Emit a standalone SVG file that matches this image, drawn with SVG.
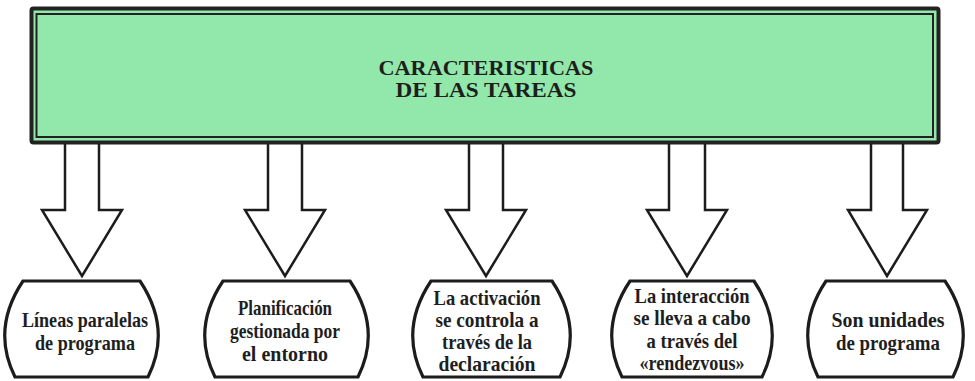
<svg xmlns="http://www.w3.org/2000/svg" width="975" height="381" viewBox="0 0 975 381">
<style>
.arrow{fill:#fff;stroke:#1c1c1c;stroke-width:2.5;stroke-linejoin:miter}
.node{fill:#fff;stroke:#1c1c1c;stroke-width:3.2}
.t{font-family:"Liberation Serif","DejaVu Serif",serif;font-weight:bold;font-size:21.5px;fill:#1e1e1e;text-anchor:middle}
.h{font-size:21px}
</style>
<rect width="975" height="381" fill="#fff"/>
<g id="connectors">
<path class="arrow" d="M65,142 V210 H42 L82,276 L122,210 H99 V142"/>
<path class="arrow" d="M268,142 V210 H245 L285,276 L325,210 H302 V142"/>
<path class="arrow" d="M469,142 V210 H446 L486,276 L526,210 H503 V142"/>
<path class="arrow" d="M669,142 V210 H647 L687,276 L727,210 H705 V142"/>
<path class="arrow" d="M871,142 V210 H848 L887,276 L927,210 H903 V142"/>
</g>
<g id="title">
<rect x="31.5" y="8.5" width="907" height="134" rx="2" fill="#92e8aa" stroke="#222" stroke-width="4"/>
<rect x="36.5" y="14" width="896.5" height="123" fill="none" stroke="#222" stroke-width="2"/>
<text class="t h" x="486" y="75" textLength="215" lengthAdjust="spacingAndGlyphs">CARACTERISTICAS</text>
<text class="t h" x="486" y="97" textLength="181" lengthAdjust="spacingAndGlyphs">DE LAS TAREAS</text>
</g>
<g id="node1">
<path class="node" d="M23,281 H140 Q172,329 148,377 H15 Q-9,329 23,281 Z"/>
<text class="t" x="85" y="327" textLength="126" lengthAdjust="spacingAndGlyphs">Líneas paralelas</text>
<text class="t" x="85" y="350" textLength="100" lengthAdjust="spacingAndGlyphs">de programa</text>
</g>
<g id="node2">
<path class="node" d="M223,281 H350 Q382,329 358,377 H215 Q191,329 223,281 Z"/>
<text class="t" x="285" y="315" textLength="94" lengthAdjust="spacingAndGlyphs">Planificación</text>
<text class="t" x="285" y="338" textLength="110" lengthAdjust="spacingAndGlyphs">gestionada por</text>
<text class="t" x="285" y="361" textLength="86" lengthAdjust="spacingAndGlyphs">el entorno</text>
</g>
<g id="node3">
<path class="node" d="M431,281 H552 Q584,329 560,377 H423 Q399,329 431,281 Z"/>
<text class="t" x="487" y="305" textLength="107" lengthAdjust="spacingAndGlyphs">La activación</text>
<text class="t" x="487" y="327" textLength="103" lengthAdjust="spacingAndGlyphs">se controla a</text>
<text class="t" x="487" y="349" textLength="90" lengthAdjust="spacingAndGlyphs">través de la</text>
<text class="t" x="487" y="371" textLength="97" lengthAdjust="spacingAndGlyphs">declaración</text>
</g>
<g id="node4">
<path class="node" d="M630,281 H754 Q786,329 762,377 H622 Q598,329 630,281 Z"/>
<text class="t" x="692" y="303" textLength="115" lengthAdjust="spacingAndGlyphs">La interacción</text>
<text class="t" x="692" y="325" textLength="117" lengthAdjust="spacingAndGlyphs">se lleva a cabo</text>
<text class="t" x="692" y="348" textLength="91" lengthAdjust="spacingAndGlyphs">a través del</text>
<text class="t" x="692" y="370" textLength="105" lengthAdjust="spacingAndGlyphs">«rendezvous»</text>
</g>
<g id="node5">
<path class="node" d="M826,281 H945 Q977,329 953,377 H818 Q794,329 826,281 Z"/>
<text class="t" x="888" y="327" textLength="113" lengthAdjust="spacingAndGlyphs">Son unidades</text>
<text class="t" x="888" y="350" textLength="104" lengthAdjust="spacingAndGlyphs">de programa</text>
</g>
</svg>
